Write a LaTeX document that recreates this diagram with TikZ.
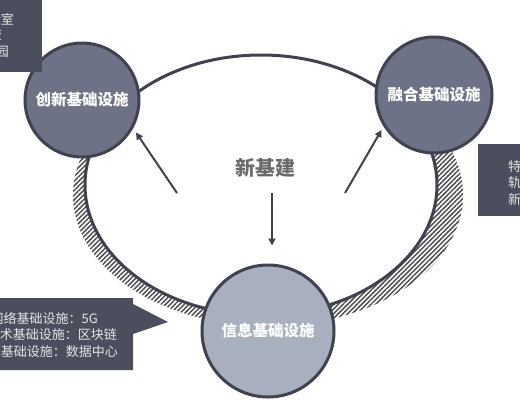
\documentclass[tikz,border=0pt]{standalone}
\usepackage{fontspec}
\newfontfamily\cjk{Noto Sans CJK SC}
\usetikzlibrary{arrows.meta,patterns.meta}
\definecolor{linec}{HTML}{40424F}
\definecolor{topfill}{HTML}{6E7287}
\definecolor{botfill}{HTML}{A8AFBF}
\definecolor{boxfill}{HTML}{4B4E5D}
\definecolor{boxtext}{HTML}{E6E6E6}
\definecolor{hatchc}{HTML}{4E4E4E}
\definecolor{titlec}{HTML}{6B6B6B}
\tikzset{
  hub/.style={circle, draw=linec, line width=3pt, inner sep=0pt, text=white,
    font=\cjk\bfseries\fontsize{15.5}{18}\selectfont},
  arr/.style={draw=linec, line width=2pt, -{Triangle[length=7pt,width=7pt]}},
  callout/.style={fill=boxfill, draw=none},
  calltext/.style={text=boxtext, inner sep=0pt, font=\cjk\fontsize{13}{15}\selectfont},
}
\begin{document}
\begin{tikzpicture}[x=1pt,y=-1pt]
\useasboundingbox (0,0) rectangle (520,400);
\clip (0,0) rectangle (520,400);
\fill[white] (0,0) rectangle (520,400);
% hatched shadow
\begin{scope}
  \clip (0,150) rectangle (520,400);
  \fill[even odd rule, pattern={Lines[angle=45,distance=3.3pt,line width=1.5pt]}, pattern color=hatchc]
    (268,195) ellipse [x radius=195pt, y radius=131pt]
    (261,185) ellipse [x radius=176pt, y radius=130pt];
\end{scope}
% main ellipse
\draw[linec, line width=3pt] (261,185) ellipse [x radius=176pt, y radius=130pt];
% hubs
\node[hub, fill=topfill, minimum size=114pt] (cx) at (82,100) {创新基础设施};
\node[hub, fill=topfill, minimum size=116pt] (rh) at (434,95) {融合基础设施};
\node[hub, fill=botfill, minimum size=132pt] (xx) at (268,331) {信息基础设施};
% center title
\node[text=titlec, font=\cjk\bfseries\fontsize{20}{24}\selectfont] (title) at (265,168) {新基建};
% arrows
\coordinate (s1) at (177,193);
\coordinate (s2) at (345,193);
\coordinate (s3) at (272,193);
\draw[arr, shorten >=5pt] (s1) -- (cx.-29);
\draw[arr, shorten >=4pt] (s2) -- (rh.212);
\draw[arr, shorten >=18pt] (s3) -- (s3 |- xx.north);
% top-left callout
\fill[callout] (-10,-10) rectangle (42,72);
\node[calltext, anchor=east] (t1) at (14,20) {重大科技基础设施：实验室};
\node[calltext, anchor=east] (t2) at (2,35) {科教基础设施：高校};
\node[calltext, anchor=east] (t3) at (9,52) {产业技术创新基础设施：产业园};
% right callout
\fill[callout] (478,144) rectangle (530,216);
\node[calltext, anchor=west] (r1) at (508,167) {特高压};
\node[calltext, anchor=west] (r2) at (508,183) {轨道交通};
\node[calltext, anchor=west] (r3) at (508,200) {新能源汽车充电桩};
% bottom-left callout
\fill[callout] (-10,298) -- (133,298) -- (133,304) -- (168,322) -- (133,334) -- (133,370) -- (-10,370) -- cycle;
\node[calltext, anchor=east] (b1) at (98,318) {通信网络基础设施：5G};
\node[calltext, anchor=east] (b2) at (117,335) {新技术基础设施：区块链};
\node[calltext, anchor=east] (b3) at (118,352) {算力基础设施：数据中心};
\end{tikzpicture}
\end{document}
